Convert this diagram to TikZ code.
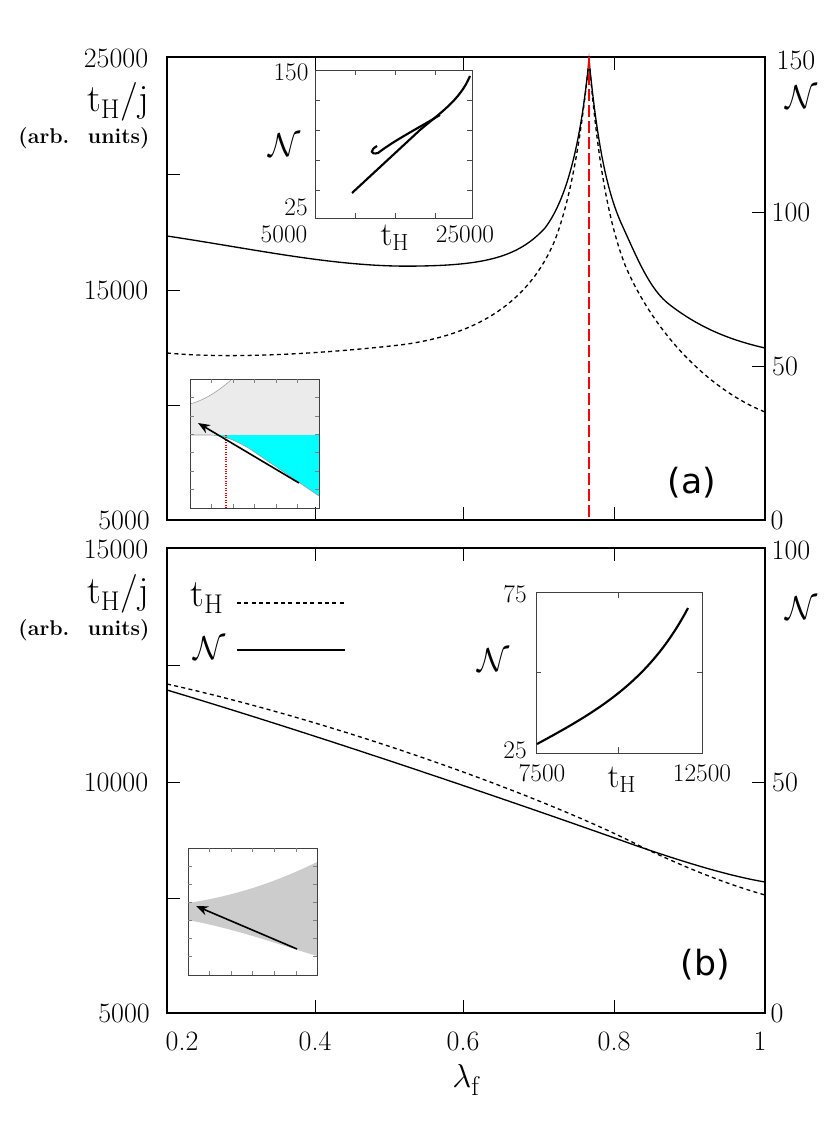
\documentclass[tikz,border=0pt]{standalone}
\usepackage{fontspec}
\newfontfamily\dvs{DejaVu Sans}
\usetikzlibrary{arrows.meta}
\definecolor{cyanf}{rgb}{0,1,1}
\begin{document}
\begin{tikzpicture}[x=0.75pt,y=-0.75pt,
  frame/.style={line width=1.6pt},
  ifr/.style={line width=0.6pt,draw=black!75},
  tk/.style={line width=0.6pt},
  lbl/.style={font=\fontsize{21}{23}\selectfont,inner sep=1pt},
  ilbl/.style={font=\fontsize{19}{21}\selectfont,inner sep=1pt},
  big/.style={font=\fontsize{29}{31}\selectfont,inner sep=1pt},
  mid/.style={font=\fontsize{25}{27}\selectfont,inner sep=1pt},
  arb/.style={font=\bfseries\fontsize{16}{18}\selectfont,inner sep=1pt},
  curve/.style={line width=1pt},
  dcurve/.style={line width=1pt,dash pattern=on 3pt off 2.5pt}]
\useasboundingbox (0,0) rectangle (830,1121);
% ===== panel (a)
\draw[frame] (167,57) rectangle (765,520);
\foreach \y in {174,290,405} {\draw[tk] (167,\y)--(180,\y);}
\foreach \y in {212,366} {\draw[tk] (765,\y)--(752,\y);}
\foreach \x in {315,463,614} {\draw[tk] (\x,520)--(\x,507); \draw[tk] (\x,57)--(\x,70);}
\draw[curve] (167,236) .. controls (260,250) and (340,268) .. (420,266)
  .. controls (490,265) and (520,255) .. (545,228)
  .. controls (570,195) and (582,130) .. (589,60)
  .. controls (597,140) and (606,190) .. (622,225)
  .. controls (638,260) and (650,290) .. (670,305)
  .. controls (700,328) and (730,340) .. (765,348);
\draw[dcurve] (167,353) .. controls (220,358) and (300,356) .. (400,345)
  .. controls (480,335) and (530,300) .. (555,240)
  .. controls (572,195) and (582,130) .. (589,60)
  .. controls (597,150) and (606,215) .. (625,265)
  .. controls (655,335) and (710,390) .. (765,412);
\draw[red,line width=2pt,dash pattern=on 9pt off 3pt] (589,57)--(589,520);
\node[lbl] (a25) at (116,58) {25000};
\node[lbl] (a15) at (116,290) {15000};
\node[lbl] (a5) at (124,520) {5000};
\node[lbl] (ar150) at (796,60) {150};
\node[lbl] (ar100) at (791,212) {100};
\node[lbl] (ar50) at (785,366) {50};
\node[lbl] (ar0) at (777,520) {0};
\node[big] (atl) at (118,102) {t$_{\rm H}$/j};
\node[arb] (aau) at (84,138) {(arb.~ units)};
\node[big] (aN) at (802,97) {$\mathcal{N}$};
\node[font=\dvs\fontsize{26}{28}\selectfont] (alab) at (692,483) {(a)};
% inset top
\draw[ifr] (315,70) rectangle (472,218);
\foreach \x in {355,395,435} {\draw[tk,black!70] (\x,218)--(\x,213); \draw[tk,black!70] (\x,70)--(\x,75);}
\foreach \y in {100,130,160,190} {\draw[tk,black!70] (315,\y)--(320,\y); \draw[tk,black!70] (472,\y)--(467,\y);}
\draw[line width=1.6pt] (352,193) -- (420,130) .. controls (440,113) and (460,100) .. (470,76);
\draw[line width=1.6pt] (377,146) .. controls (370,150) and (370,155) .. (378,153)
  .. controls (395,140) and (415,130) .. (440,115);
\node[ilbl] (i150) at (291,72) {150};
\node[ilbl] (i25) at (296,207) {25};
\node[ilbl] (i5000) at (284,234) {5000};
\node[ilbl] (i25000) at (465,234) {25000};
\node[mid] (itH) at (395,238) {t$_{\rm H}$};
\node[mid] (iN) at (285,145) {$\mathcal{N}$};
% inset lower left (a)
\fill[black!8] (190,379) rectangle (319,435);
\fill[white] (190,379) -- (190,404) .. controls (205,400) and (220,390) .. (232,379) -- cycle;
\draw[black!40,line width=0.4pt] (190,404) .. controls (205,400) and (220,390) .. (232,379);
\fill[cyanf] (212,435) .. controls (225,436) and (235,440) .. (250,449) -- (319,496) -- (319,435) -- cycle;
\draw[black!40,line width=0.4pt] (190,435) -- (212,435) .. controls (225,436) and (235,440) .. (250,449) -- (319,496);
\draw[red,densely dotted,line width=0.8pt] (226,435)--(226,508);
\coordinate (ar1s) at (299,483); \coordinate (ar1e) at (198,423);
\draw[line width=1.2pt,-{Stealth[length=9pt,width=7pt]}] (ar1s)--(ar1e);
\draw[ifr] (190,379) rectangle (319,508);
\foreach \x in {211,233,254,276,297} {\draw[black!50,line width=0.4pt] (\x,508)--(\x,504); \draw[black!50,line width=0.4pt] (\x,379)--(\x,383);}
\foreach \y in {397,416,434,452,471,489} {\draw[black!50,line width=0.4pt] (190,\y)--(194,\y); \draw[black!50,line width=0.4pt] (319,\y)--(315,\y);}
% ===== panel (b)
\draw[frame] (167,548) rectangle (765,1013);
\foreach \y in {665,782,898} {\draw[tk] (167,\y)--(180,\y);}
\foreach \y in {782} {\draw[tk] (765,\y)--(752,\y);}
\foreach \x in {315,463,614} {\draw[tk] (\x,1013)--(\x,1000); \draw[tk] (\x,548)--(\x,561);}
\draw[curve] (167,690) .. controls (350,745) and (550,815) .. (640,847) .. controls (690,864) and (730,876) .. (765,882);
\draw[dcurve] (167,684) .. controls (350,725) and (550,800) .. (640,846) .. controls (690,870) and (730,885) .. (765,895);
\node[lbl] (b15) at (116,549) {15000};
\node[lbl] (b10) at (116,782) {10000};
\node[lbl] (b5) at (124,1013) {5000};
\node[lbl] (br100) at (791,550) {100};
\node[lbl] (br50) at (785,782) {50};
\node[lbl] (br0) at (777,1013) {0};
\node[big] (btl) at (118,594) {t$_{\rm H}$/j};
\node[arb] (bau) at (84,630) {(arb.~ units)};
\node[big] (bN) at (802,608) {$\mathcal{N}$};
\node[font=\dvs\fontsize{26}{28}\selectfont] (blab) at (705,965) {(b)};
% legend
\node[big] (lgt) at (207,598) {t$_{\rm H}$};
\node[big] (lgN) at (210,648) {$\mathcal{N}$};
\coordinate (l1a) at (237,603); \coordinate (l1b) at (345,603);
\coordinate (l2a) at (237,650); \coordinate (l2b) at (345,650);
\draw[dcurve] (l1a)--(l1b);
\draw[curve] (l2a)--(l2b);
% inset right (b)
\draw[ifr] (536,592) rectangle (702,753);
\draw[tk,black!70] (618,753)--(618,747); \draw[tk,black!70] (618,592)--(618,598);
\draw[tk,black!70] (536,672)--(541,672); \draw[tk,black!70] (702,672)--(697,672);
\draw[line width=1.6pt] (537,744) .. controls (600,710) and (650,680) .. (688,608);
\node[ilbl] (j75) at (515,594) {75};
\node[ilbl] (j25) at (515,750) {25};
\node[ilbl] (j7500) at (542,773) {7500};
\node[ilbl] (j12500) at (702,773) {12500};
\node[mid] (jtH) at (622,780) {t$_{\rm H}$};
\node[mid] (jN) at (494,660) {$\mathcal{N}$};
% inset lower left (b)
\fill[black!20] (188,903) .. controls (240,895) and (280,880) .. (317,862) -- (317,956) .. controls (280,945) and (240,930) .. (188,920) -- cycle;
\coordinate (ar2s) at (297,949); \coordinate (ar2e) at (196,906);
\draw[line width=1.2pt,-{Stealth[length=9pt,width=7pt]}] (ar2s)--(ar2e);
\draw[ifr] (188,848) rectangle (317,975);
\foreach \x in {209,231,252,274,296} {\draw[black!50,line width=0.4pt] (\x,975)--(\x,971); \draw[black!50,line width=0.4pt] (\x,848)--(\x,852);}
\foreach \y in {866,884,902,920,938,956} {\draw[black!50,line width=0.4pt] (188,\y)--(192,\y); \draw[black!50,line width=0.4pt] (317,\y)--(313,\y);}
% x axis labels
\node[lbl] (x02) at (182,1041) {0.2};
\node[lbl] (x04) at (315,1041) {0.4};
\node[lbl] (x06) at (463,1041) {0.6};
\node[lbl] (x08) at (614,1041) {0.8};
\node[lbl] (x1) at (760,1041) {1};
\node[big] (xl) at (466,1080) {$\lambda_{\rm f}$};
\end{tikzpicture}
\end{document}
